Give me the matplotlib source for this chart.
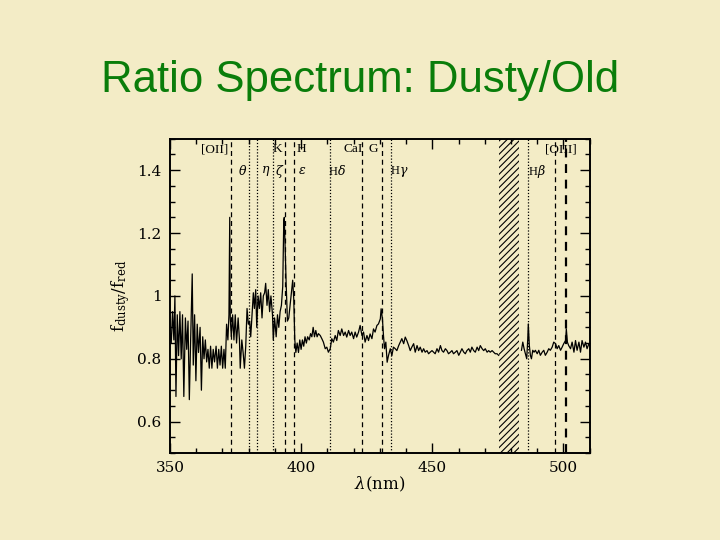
import numpy as np
import matplotlib
matplotlib.use('Agg')
import matplotlib.pyplot as plt
from matplotlib.ticker import MultipleLocator, FormatStrFormatter

# スライドの背景色とタイトル色
bg = '#F3ECC6'
title_color = '#0A7D0A'

# 比スペクトル (nm, f_dusty/f_red) -- 図から読み取った値
wave_a = [350.0, 350.5, 351.0, 351.5, 351.9, 352.3, 352.8, 353.3, 353.8, 354.3,
          354.8, 355.3, 355.9, 356.4, 356.9, 357.4, 357.9, 358.5, 358.9, 359.4,
          359.9, 360.4, 360.9, 361.5, 362.0, 362.5, 363.0, 363.5, 364.0, 364.5,
          365.0, 365.5, 366.0, 366.5, 367.0, 367.6, 368.1, 368.6, 369.1, 369.6,
          370.1, 370.6, 371.1, 371.6, 372.1, 372.5, 372.8, 373.0, 373.4, 373.9,
          374.4, 374.9, 375.4, 376.0, 376.5, 376.8, 377.4, 377.9, 378.4, 378.9,
          379.4, 379.9, 380.4, 380.8, 381.3, 381.8, 382.2, 382.7, 383.1, 383.6,
          384.1, 384.6, 385.1, 385.6, 386.1, 386.5, 387.0, 387.5, 388.0, 388.5,
          389.1, 389.4, 389.9, 390.5, 391.0, 391.5, 392.0, 392.5, 393.0, 393.4,
          393.6, 393.9, 394.3, 394.8, 395.3, 395.8, 396.3, 396.8, 397.2, 397.6,
          398.0, 398.5, 399.0, 399.5, 400.0, 400.5, 401.0, 401.5, 402.0, 402.5,
          403.1, 403.6, 404.1, 404.6, 405.1, 405.6, 406.1, 406.6]
ratio_a = [0.88, 0.85, 0.95, 0.86, 1.00, 0.68, 0.94, 0.81, 0.95, 0.80,
           0.94, 0.68, 0.93, 0.83, 0.92, 0.67, 0.86, 1.07, 0.78, 0.94,
           0.73, 0.91, 0.82, 0.90, 0.70, 0.87, 0.80, 0.86, 0.79, 0.83,
           0.77, 0.84, 0.77, 0.83, 0.79, 0.84, 0.77, 0.83, 0.78, 0.84,
           0.77, 0.83, 0.77, 0.91, 0.86, 0.94, 1.25, 0.93, 0.87, 0.94,
           0.86, 0.94, 0.85, 0.93, 0.86, 0.77, 0.86, 0.82, 0.77, 0.84,
           0.96, 0.91, 0.92, 0.87, 0.94, 1.01, 0.96, 1.02, 0.90, 1.00,
           0.96, 1.01, 0.93, 1.00, 1.01, 1.04, 0.97, 1.02, 0.95, 1.00,
           0.94, 0.86, 0.93, 0.87, 0.94, 0.90, 0.95, 0.97, 1.03, 1.24,
           1.25, 1.16, 1.04, 0.92, 0.93, 0.97, 1.01, 1.05, 0.99, 0.86,
           0.82, 0.85, 0.82, 0.86, 0.83, 0.86, 0.84, 0.87, 0.85, 0.87,
           0.86, 0.88, 0.87, 0.90, 0.87, 0.89, 0.87, 0.88]

wave_b = [407.3, 407.9, 408.5, 409.2, 409.8, 410.4, 411.1, 411.7, 412.3, 413.0,
          413.6, 414.2, 414.9, 415.5, 416.2, 416.8, 417.4, 418.1, 418.7, 419.3,
          420.0, 420.6, 421.2, 421.9, 422.5, 423.2, 423.8, 424.4, 425.1, 425.7,
          426.3, 427.0, 427.6, 428.2, 428.9, 429.5, 430.2, 430.5, 431.0, 431.4,
          431.8, 432.3, 432.8, 433.3, 434.0, 434.6, 435.2, 435.9]
ratio_b = [0.874, 0.864, 0.853, 0.832, 0.837, 0.821, 0.832, 0.864, 0.853, 0.874,
           0.858, 0.890, 0.874, 0.895, 0.874, 0.885, 0.869, 0.890, 0.874, 0.885,
           0.864, 0.885, 0.869, 0.885, 0.906, 0.874, 0.885, 0.853, 0.874, 0.858,
           0.879, 0.864, 0.895, 0.885, 0.906, 0.911, 0.927, 0.959, 0.927, 0.874,
           0.832, 0.853, 0.789, 0.810, 0.832, 0.810, 0.837, 0.832]

wave_c = [436.5, 437.2, 437.8, 438.4, 439.1, 439.7, 440.3, 441.0, 441.6, 442.2,
          442.9, 443.5, 444.2, 444.8, 445.4, 446.1, 446.7, 447.3, 448.0, 448.6,
          449.2, 449.9, 450.5, 451.1, 451.8, 452.4, 453.1, 453.7, 454.3, 455.0,
          455.6, 456.2, 456.9, 457.5, 458.1, 458.8, 459.4, 460.1, 460.7, 461.3,
          462.0, 462.6, 463.2, 463.9, 464.5, 465.1, 465.8, 466.4, 467.1, 467.7,
          468.3, 469.0, 469.6, 470.2, 470.9, 471.5, 472.1, 472.8, 473.4, 474.0,
          474.7, 475.3]
ratio_c = [0.826, 0.842, 0.853, 0.864, 0.848, 0.869, 0.858, 0.842, 0.826, 0.837,
           0.848, 0.821, 0.842, 0.826, 0.837, 0.821, 0.832, 0.821, 0.826, 0.816,
           0.821, 0.826, 0.821, 0.816, 0.832, 0.821, 0.842, 0.826, 0.821, 0.832,
           0.826, 0.816, 0.821, 0.826, 0.816, 0.821, 0.826, 0.811, 0.821, 0.832,
           0.821, 0.816, 0.826, 0.832, 0.821, 0.837, 0.826, 0.821, 0.837, 0.826,
           0.842, 0.832, 0.826, 0.832, 0.821, 0.826, 0.821, 0.826, 0.821, 0.816,
           0.816, 0.811]

wave_d = [484.0, 484.5, 485.0, 485.5, 486.0, 486.4, 486.6, 487.0, 487.4, 487.8,
          488.3, 488.8, 489.3, 490.0, 490.6, 491.2, 491.9, 492.5, 493.1, 493.8,
          494.4, 495.0, 495.7, 496.3, 497.0, 497.6, 498.2, 498.9, 499.5, 500.1,
          500.8, 501.1, 501.5, 502.0, 502.7, 503.3, 504.0, 504.6, 505.2, 505.9,
          506.5, 507.1, 507.8, 508.4, 509.0, 509.7, 510.3]
ratio_d = [0.827, 0.853, 0.832, 0.816, 0.800, 0.863, 0.911, 0.842, 0.811, 0.800,
           0.827, 0.821, 0.827, 0.816, 0.827, 0.811, 0.821, 0.827, 0.811, 0.821,
           0.832, 0.827, 0.837, 0.853, 0.848, 0.832, 0.842, 0.827, 0.837, 0.848,
           0.858, 0.895, 0.853, 0.842, 0.832, 0.853, 0.821, 0.858, 0.827, 0.853,
           0.821, 0.858, 0.837, 0.853, 0.832, 0.848, 0.837]

# 吸収・輝線の位置 (nm)
dashed_lines = [373.2, 393.8, 397.3, 423.3, 430.8, 496.7]
oiii_strong = 500.8
dotted_lines = [380.3, 383.1, 389.2, 411.0, 434.4, 486.4]
mask_band = (475.3, 483.0)

# ラベル (テキスト, 波長)
top_labels = [('[OII]', 367.0), ('K', 390.8), ('H', 400.0), ('CaI', 419.8),
              ('G', 427.6), ('[OIII]', 499.0)]
low_labels = [(r'$\theta$', 377.9), (r'$\eta$', 386.6), (r'$\zeta$', 391.7),
              (r'$\epsilon$', 400.3), (r'H$\delta$', 413.8), (r'H$\gamma$', 437.4),
              (r'H$\beta$', 490.0)]

plt.rcParams['mathtext.fontset'] = 'dejavuserif'
plt.rcParams['hatch.linewidth'] = 0.8

fig = plt.figure(figsize=(7.2, 5.4), dpi=100, facecolor=bg)
fig.text(0.5, 1 - 92 / 540, 'Ratio Spectrum: Dusty/Old', ha='center', va='baseline',
         fontsize=31.5, color=title_color, family='Liberation Sans')

ax = fig.add_axes([0.236, 0.161, 0.583, 0.582])
ax.set_facecolor(bg)

# スペクトル (マスク部分は描かない)
for w, r in [(wave_a + wave_b + wave_c, ratio_a + ratio_b + ratio_c), (wave_d, ratio_d)]:
    ax.plot(w, r, color='black', lw=0.9)

for x in dashed_lines:
    ax.axvline(x, color='black', lw=0.9, ls=(0, (4, 3)))
ax.axvline(oiii_strong, color='black', lw=1.6, ls=(0, (4, 3)))
for x in dotted_lines:
    ax.axvline(x, color='black', lw=0.9, ls=(0, (1, 1.5)))
ax.axvspan(*mask_band, facecolor='none', edgecolor='black', hatch='/////', lw=0)

for txt, x in top_labels:
    ax.text(x, 1.467, txt, ha='center', va='center', fontsize=9.5,
            family='Liberation Serif')
for txt, x in low_labels:
    ax.text(x, 1.397, txt, ha='center', va='center', fontsize=9,
            family='Liberation Serif')

ax.set_xlim(350, 510)
ax.set_ylim(0.5, 1.5)
ax.xaxis.set_major_locator(MultipleLocator(50))
ax.xaxis.set_minor_locator(MultipleLocator(10))
ax.yaxis.set_major_locator(MultipleLocator(0.2))
ax.yaxis.set_minor_locator(MultipleLocator(0.05))
ax.yaxis.set_major_formatter(FormatStrFormatter('%g'))
ax.tick_params(which='both', direction='in', top=True, right=True, width=1)
ax.tick_params(which='major', length=7, labelsize=11, pad=6)
ax.tick_params(which='minor', length=3.5)
for lab in ax.get_xticklabels() + ax.get_yticklabels():
    lab.set_family('DejaVu Serif')
for s in ax.spines.values():
    s.set_linewidth(1.4)

ax.set_xlabel(r'$\lambda$(nm)', fontsize=12, family='DejaVu Serif')
ax.xaxis.set_label_coords(0.5, -0.07)
ax.set_ylabel(r'$\mathrm{f_{dusty}/f_{red}}$', fontsize=12)
ax.yaxis.set_label_coords(-0.09, 0.5)

fig.savefig('out.png', dpi=100, facecolor=bg)
